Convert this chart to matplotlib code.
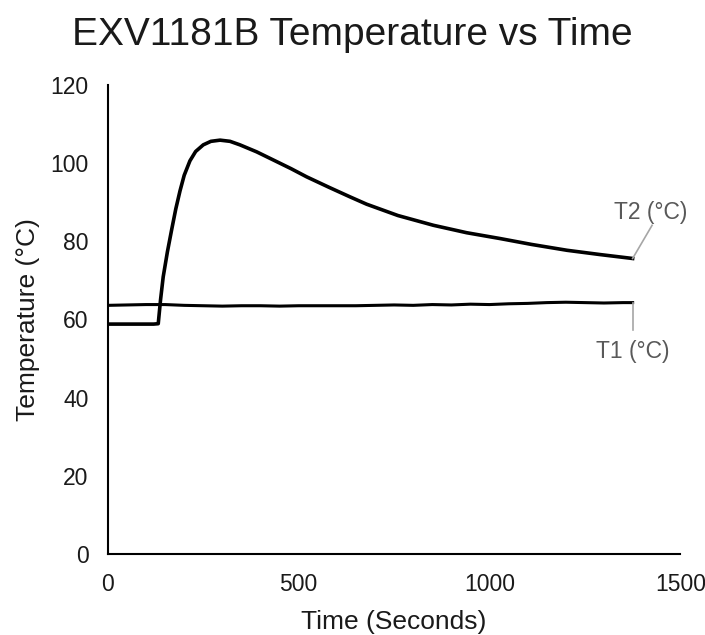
import matplotlib.pyplot as plt

plt.rcParams['font.family'] = ['Liberation Sans', 'DejaVu Sans']

# T2 readings (seconds, degC)
t2_time = [0, 60, 120, 132, 138, 145, 156, 167, 178, 189, 200, 215, 230, 250, 270,
           294, 320, 346, 390, 434, 480, 521, 580, 634, 678, 760, 853, 940,
           1028, 1110, 1203, 1290, 1375]
t2_temp = [58.8, 58.8, 58.8, 58.9, 65.0, 70.9, 77.3, 82.9, 88.3, 92.9, 96.9, 100.6,
           103.0, 104.7, 105.6, 105.9, 105.6, 104.7, 102.9, 100.8, 98.6, 96.5,
           93.8, 91.4, 89.5, 86.6, 84.1, 82.2, 80.7, 79.2, 77.7, 76.6, 75.6]

# T1 readings (seconds, degC)
t1_time = [0, 50, 100, 150, 200, 250, 300, 350, 400, 450, 500, 550, 600, 650, 700,
           750, 800, 850, 900, 950, 1000, 1050, 1100, 1150, 1200, 1250, 1300,
           1350, 1375]
t1_temp = [63.6, 63.7, 63.8, 63.8, 63.6, 63.5, 63.4, 63.5, 63.5, 63.4, 63.5, 63.5,
           63.5, 63.5, 63.6, 63.7, 63.6, 63.8, 63.7, 63.9, 63.8, 64.0, 64.1, 64.3,
           64.4, 64.3, 64.2, 64.3, 64.3]

fig = plt.figure(figsize=(7.05, 6.35), dpi=100)
ax = fig.add_axes([0.153, 0.128, 0.812, 0.738])

ax.plot(t1_time, t1_temp, color='black', linewidth=2.2, solid_joinstyle='round')
ax.plot(t2_time, t2_temp, color='black', linewidth=2.6, solid_joinstyle='round')

ax.set_xlim(0, 1500)
ax.set_ylim(0, 120)
ax.set_xticks([0, 500, 1000, 1500])
ax.set_yticks(range(0, 121, 20))
ax.tick_params(length=0, labelsize=16.5, colors='#1a1a1a', pad=14)

for s in ['top', 'right']:
    ax.spines[s].set_visible(False)
for s in ['left', 'bottom']:
    ax.spines[s].set_linewidth(1.5)

ax.set_xlabel('Time (Seconds)', fontsize=19, color='#1a1a1a')
ax.set_ylabel('Temperature (°C)', fontsize=19, color='#1a1a1a')
ax.xaxis.set_label_coords(0.5, -0.146)
ax.xaxis.label.set_va('center')
ax.yaxis.set_label_coords(-0.14, 0.5)
ax.yaxis.label.set_va('center')
fig.text(0.5, 1 - 35 / 635, 'EXV1181B Temperature vs Time', fontsize=28,
         ha='center', va='center', color='#1a1a1a')

# data labels with leader lines
ax.plot([t2_time[-1], 1426], [t2_temp[-1], 84.1], color='#a6a6a6', lw=1.2, clip_on=False)
ax.text(1423, 87.5, 'T2 (°C)', fontsize=16.5, color='#595959', ha='center', va='center')
ax.plot([t1_time[-1], 1375], [t1_temp[-1], 57.3], color='#a6a6a6', lw=1.2, clip_on=False)
ax.text(1375, 51.7, 'T1 (°C)', fontsize=16.5, color='#595959', ha='center', va='center')

fig.savefig('out.png', dpi=100, facecolor='white')
